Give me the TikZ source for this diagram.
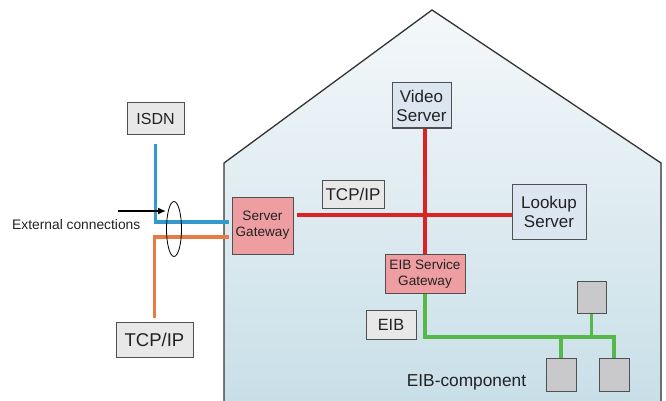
\documentclass[tikz,border=0pt]{standalone}
\usepackage{fontspec}
\setmainfont{Liberation Sans}
\usetikzlibrary{shapes.geometric,arrows.meta}
\definecolor{txt}{HTML}{222222}
\definecolor{edge}{HTML}{505050}
\definecolor{boxgray}{HTML}{E8E8E8}
\definecolor{compgray}{HTML}{C9C9CB}
\definecolor{srvblue}{HTML}{DCE6F0}
\definecolor{gwpink}{HTML}{EE9EA1}
\definecolor{netred}{HTML}{DD2222}
\definecolor{netgreen}{HTML}{55B848}
\definecolor{netblue}{HTML}{3399CC}
\definecolor{netorange}{HTML}{E87A45}
\definecolor{housetop}{HTML}{F4F8FA}
\definecolor{housebot}{HTML}{C9DFE8}
\tikzset{
  box/.style={draw=edge, line width=1pt, text=txt, inner sep=0pt, align=center},
  labelbox/.style={box, fill=boxgray},
  serverbox/.style={box, fill=srvblue},
  gatebox/.style={box, fill=gwpink},
  compbox/.style={box, fill=compgray},
  wire/.style={line width=3.6pt, line cap=butt, line join=miter},
}
\begin{document}
\begin{tikzpicture}[x=1pt, y=-1pt]
\useasboundingbox (0,0) rectangle (666,401);

% house outline with soft shading
\fill[top color=housetop, bottom color=housebot]
  (224,401) -- (224,163) -- (432,10) -- (661,163) -- (661,401) -- cycle;
\draw[line width=1.3pt, draw=black!80, line join=miter]
  (224,401) -- (224,163) -- (432,10) -- (661,163) -- (661,401);

% external labels
\node[labelbox, minimum width=57pt, minimum height=31pt,
      font=\fontsize{16}{18}\selectfont] (isdn) at (155.5,118.5) {ISDN};
\node[labelbox, minimum width=77pt, minimum height=35pt,
      font=\fontsize{18.5}{21}\selectfont] (tcpb) at (154.5,339.5) {TCP/IP};

% gateways and servers
\node[gatebox, minimum width=61pt, minimum height=57pt,
      font=\fontsize{13.6}{16}\selectfont] (sg) at (262.5,225.5) {Server\\Gateway};
\node[serverbox, minimum width=59pt, minimum height=45pt,
      font=\fontsize{17}{19}\selectfont] (video) at (421.5,105.5) {Video\\Server};
\node[labelbox, minimum width=62pt, minimum height=28pt,
      font=\fontsize{17}{19}\selectfont] (tcpm) at (353,194) {TCP/IP};
\node[serverbox, minimum width=74pt, minimum height=55pt,
      font=\fontsize{17}{19}\selectfont] (lookup) at (549,211.5) {Lookup\\Server};
\node[gatebox, minimum width=80pt, minimum height=39pt,
      font=\fontsize{13.6}{16}\selectfont] (eibgw) at (425,273.5) {EIB Service\\Gateway};
\node[labelbox, minimum width=50pt, minimum height=29pt,
      font=\fontsize{16.3}{18}\selectfont] (eib) at (391,324.5) {EIB};

% EIB components
\node[compbox, minimum width=29pt, minimum height=32pt] (c1) at (591.5,297) {};
\node[compbox, minimum width=30pt, minimum height=33pt] (c2) at (561,374.5) {};
\node[compbox, minimum width=30pt, minimum height=33pt] (c3) at (614,374.5) {};
\node[text=txt, font=\fontsize{17.3}{19}\selectfont] (eibc) at (466.5,382) {EIB-component};

% IP backbone
\coordinate (cross) at (425,215);
\draw[wire, netred] ([xshift=3pt]sg.east |- cross) -- (lookup.west |- cross);
\draw[wire, netred] (eibgw.north) -- (eibgw.north |- video.south);

% EIB bus
\coordinate (busR) at (614,337);
\draw[wire, netgreen] (eibgw.south) |- (busR) -- (c3.north);
\draw[wire, netgreen] (c2.north) -- (c2.north |- busR);
\draw[wire, netgreen] (c1.south) -- (c1.south |- busR);

% external lines into the server gateway
\coordinate (isdnin) at (229,222);
\coordinate (tcpin) at (229,237);
\draw[wire, netblue] ([yshift=-9pt]isdn.south) |- (isdnin);
\draw[wire, netorange] ([yshift=4pt]tcpb.north) |- (tcpin);

% bundle marker and annotation
\node[draw=black, line width=0.8pt, ellipse, inner sep=0pt,
      minimum width=15pt, minimum height=55pt] (bundle) at (174,229) {};
\coordinate (arrS) at (118,211);
\coordinate (arrE) at (166,211);
\draw[line width=1.5pt, -{Latex[length=8pt,width=7pt]}] (arrS) -- (arrE);
\node[anchor=west, inner sep=0pt, text=txt,
      font=\fontsize{13.8}{16}\selectfont] (ext) at (12,225) {External connections};
\end{tikzpicture}
\end{document}
